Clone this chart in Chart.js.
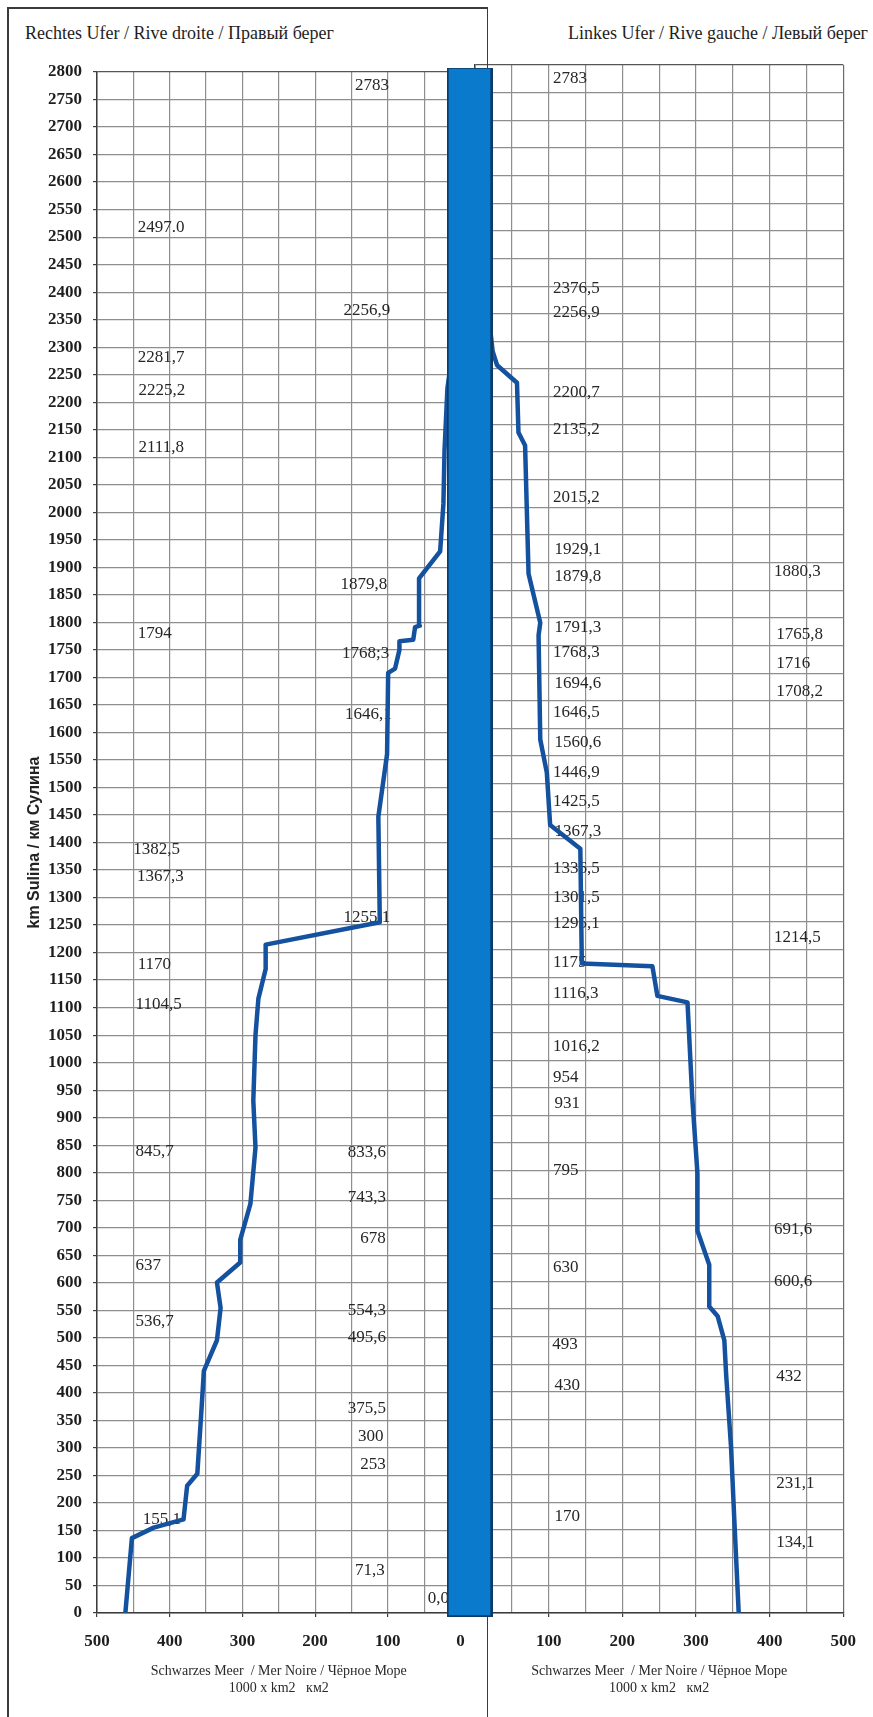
<!DOCTYPE html>
<html>
<head>
<meta charset="utf-8">
<script src="https://cdn.jsdelivr.net/npm/chart.js@4.4.1/dist/chart.umd.min.js"></script>
<style>
  body { margin:0; background:#fff; width:873px; height:1717px; position:relative; overflow:hidden; font-family:'Liberation Serif','Times New Roman',serif; }
  canvas { position:absolute; }
  .hdr { position:absolute; top:23px; font-size:18px; line-height:20px; color:#1e1e1e; white-space:nowrap; }
  .frame { position:absolute; background:#3a3a3a; }
</style>
</head>
<body>
<div class="hdr" style="left:25px;">Rechtes Ufer / Rive droite / Правый берег</div>
<div class="hdr" style="right:5px;">Linkes Ufer / Rive gauche / Левый берег</div>

<canvas id="leftChart" width="470" height="1717" style="left:0;top:0;"></canvas>
<canvas id="rightChart" width="407" height="1717" style="left:466px;top:0;"></canvas>

<div class="frame" style="left:7px;top:7px;width:1.5px;height:1710px;"></div>
<div class="frame" style="left:7px;top:7px;width:481px;height:1.5px;"></div>
<div class="frame" style="left:486.5px;top:7px;width:1.5px;height:1710px;"></div>

<canvas id="river" width="46" height="1549" style="left:447px;top:68px;"></canvas>

<script>
// ---------- Axis / tick data ----------
const kmMin = 0;
const kmMax = 2800;
const kmStep = 50;
const areaMax = 500;
const areaStep = 50;
const leftPanelTickLabels = [0, 100, 200, 300, 400, 500];
const rightPanelTickLabels = [100, 200, 300, 400, 500];

// ---------- Series: right bank (left panel), km Sulina vs. catchment 1000 km² ----------
const rightBankKm   = [0, 136, 155.1, 170, 231.1, 253, 375.5, 440, 495.6, 554.3, 600.6, 637, 678, 743.3, 845.7, 931, 1050, 1116.3, 1170, 1214.5, 1255.1, 1446.9, 1560.6, 1708.2, 1716, 1750, 1765.8, 1768.3, 1791.3, 1794, 1879.8, 1929.1, 2015.2, 2111.8, 2225.2, 2281.7];
const rightBankArea = [461, 452, 422, 381, 376, 362, 356, 353, 335, 330, 335, 303, 303, 289, 282, 285, 282, 278, 268, 268, 111, 113, 101, 99.5, 90, 84, 84, 65, 62.5, 56, 57, 28, 23.5, 22, 18, 12];

// ---------- Series: left bank (right panel) ----------
const leftBankKm   = [0, 170, 300, 430, 493, 536.7, 554.3, 630, 691.6, 795, 931, 1104.5, 1116.3, 1170, 1175, 1382.5, 1425.5, 1520, 1580, 1768.3, 1791.3, 1879.8, 2111.8, 2135.2, 2225.2, 2256.9, 2281.7, 2376.5];
const leftBankArea = [358, 352, 347.6, 341, 338.5, 329.5, 318, 318, 302, 302, 295, 288.5, 247.6, 240.8, 145, 143, 102, 97.5, 88.6, 86.3, 88.6, 72.7, 68, 59, 57, 30, 24, 16];

// ---------- Annotations (km marks) ----------
const rightBankLabelText = ['2783', '2497.0', '2256,9', '2281,7', '2225,2', '2111,8', '1879,8', '1794', '1768;3', '1646,1', '1382,5', '1367,3', '1255,1', '1170', '1104,5', '845,7', '833,6', '743,3', '678', '637', '554,3', '536,7', '495,6', '375,5', '300', '253', '155,1', '71,3', '0,0'];
const rightBankLabelKm   = [2776, 2518, 2367, 2282, 2222, 2118, 1868, 1780, 1744, 1632, 1388, 1339, 1263, 1179, 1105, 838, 836, 754, 681, 632, 550, 529, 500, 372, 320, 269, 169, 78, 27];
const rightBankLabelArea = [145, 444, 161, 444, 443, 443, 165, 444, 163, 159, 450, 445, 161, 444, 447, 447, 155, 155, 138, 447, 155, 447, 155, 155, 141, 138, 437, 145, 45];

const leftBankLabelText = ['2783', '2376,5', '2256,9', '2200,7', '2135,2', '2015,2', '1929,1', '1879,8', '1791,3', '1768,3', '1694,6', '1646,5', '1560,6', '1446,9', '1425,5', '1367,3', '1336,5', '1301,5', '1295,1', '1175', '1116,3', '1016,2', '954', '931', '795', '630', '493', '430', '170', '1880,3', '1765,8', '1716', '1708,2', '1214,5', '691,6', '600,6', '432', '231,1', '134,1'];
const leftBankLabelKm   = [2776, 2396, 2353, 2207, 2140, 2018, 1923, 1874, 1782, 1738, 1682, 1628, 1575, 1521, 1467, 1413, 1347, 1295, 1248, 1177, 1121, 1024, 969, 922, 801, 624, 485, 412, 174, 1883, 1769, 1718, 1666, 1221, 693, 599, 427, 235, 128];
const leftBankLabelArea = [106, 106, 106, 106, 106, 106, 108, 108, 108, 106, 108, 106, 108, 106, 106, 108, 106, 106, 106, 106, 106, 106, 106, 108, 106, 106, 105, 108, 108, 406, 409, 409, 409, 406, 406, 406, 409, 409, 409];

// ---------- River bar ----------
const riverName = ['Donau / Danube / Дунай'];
const riverSpanKm = [[0, 2800]];

// ---------- Styles ----------
const SERIF = "'Liberation Serif','Times New Roman',serif";
const SANS = "'Liberation Sans',Arial,sans-serif";
const LINE_COLOR = '#14519f';
const GRID = '#8e8e8e';
const DARK = '#3c3c3c';

function makeLabelPlugin(texts, kms, areas) {
  return {
    id: 'kmLabels',
    beforeDatasetsDraw(chart) {
      const ctx = chart.ctx, xs = chart.scales.x, ys = chart.scales.y;
      ctx.save();
      ctx.font = '17px ' + SERIF;
      ctx.fillStyle = '#262626';
      ctx.textAlign = 'left';
      ctx.textBaseline = 'middle';
      texts.forEach((t, i) => ctx.fillText(t, xs.getPixelForValue(areas[i]), ys.getPixelForValue(kms[i])));
      ctx.restore();
    }
  };
}

function toPoints(xs, ys) { return ys.map((v, i) => ({ x: v, y: xs[i] })); }

function panelConfig(opts) {
  return {
    type: 'line',
    data: {
      datasets: [{
        data: toPoints(opts.km, opts.area),
        borderColor: LINE_COLOR,
        borderWidth: 4.5,
        pointRadius: 0,
        tension: 0,
        fill: false,
        borderJoinStyle: 'round',
        borderCapStyle: 'round'
      }]
    },
    options: {
      responsive: false,
      animation: false,
      layout: { padding: opts.padding },
      plugins: { legend: { display: false }, tooltip: { enabled: false } },
      scales: {
        x: {
          type: 'linear',
          reverse: opts.reverse,
          min: 0, max: areaMax,
          afterFit: s => { s.height = 104; },
          border: { display: true, color: DARK, width: 1.5 },
          grid: {
            color: c => (c.tick && c.tick.value === areaMax && !opts.reverse) ? '#6a6a6a' : GRID,
            lineWidth: 1.2,
            tickLength: 4,
            tickColor: c => (c.tick && c.tick.value % 100 === 0) ? DARK : 'rgba(0,0,0,0)'
          },
          ticks: {
            stepSize: areaStep,
            autoSkip: false,
            maxRotation: 0,
            padding: 3,
            color: '#1e1e1e',
            font: { family: SERIF, size: 17, weight: 'bold', lineHeight: '44px' },
            callback: v => opts.tickLabels.includes(v) ? String(v) : ''
          },
          title: {
            display: true,
            text: ['Schwarzes Meer  / Mer Noire / Чёрное Море', '1000 x km2   км2'],
            color: '#2a2a2a',
            font: { family: SERIF, size: 14 },
            padding: { top: 0, bottom: 20.5 }
          }
        },
        y: {
          type: 'linear',
          min: kmMin, max: kmMax,
          afterFit: s => { s.width = opts.yWidth; },
          border: { display: true, color: DARK, width: 1.5 },
          grid: {
            color: c => (c.tick && c.tick.value === kmMax) ? '#555' : GRID,
            lineWidth: 1.2,
            drawTicks: opts.showY,
            tickLength: 4,
            tickColor: DARK
          },
          ticks: {
            display: opts.showY,
            stepSize: kmStep,
            autoSkip: false,
            padding: 11,
            color: '#1e1e1e',
            font: { family: SERIF, size: 17, weight: 'bold' },
            callback: v => String(v)
          },
          title: {
            display: opts.showY,
            text: 'km Sulina / км Сулина',
            color: '#222',
            font: { family: SANS, size: 16, weight: 'bold' },
            padding: { top: 17, bottom: 0 }
          }
        }
      }
    },
    plugins: [makeLabelPlugin(opts.labelText, opts.labelKm, opts.labelArea)]
  };
}

new Chart(document.getElementById('leftChart'), panelConfig({
  km: rightBankKm, area: rightBankArea,
  reverse: true, tickLabels: leftPanelTickLabels,
  padding: { left: 8, top: 72, right: 9.5, bottom: 0 },
  yWidth: 89, showY: true,
  labelText: rightBankLabelText, labelKm: rightBankLabelKm, labelArea: rightBankLabelArea
}));

new Chart(document.getElementById('rightChart'), panelConfig({
  km: leftBankKm, area: leftBankArea,
  reverse: false, tickLabels: rightPanelTickLabels,
  padding: { left: 9, top: 65, right: 29.7, bottom: 0 },
  yWidth: 0, showY: false,
  labelText: leftBankLabelText, labelKm: leftBankLabelKm, labelArea: leftBankLabelArea
}));

new Chart(document.getElementById('river'), {
  type: 'bar',
  data: {
    labels: riverName,
    datasets: [{
      data: riverSpanKm,
      backgroundColor: '#0a7bcc',
      borderColor: '#0d3a66',
      borderWidth: { left: 2, right: 3, top: 1, bottom: 2 },
      borderSkipped: false,
      barPercentage: 1,
      categoryPercentage: 1
    }]
  },
  options: {
    responsive: false,
    animation: false,
    layout: { padding: 0 },
    plugins: { legend: { display: false }, tooltip: { enabled: false } },
    scales: {
      x: { display: false },
      y: { display: false, min: kmMin, max: kmMax }
    }
  }
});
</script>
</body>
</html>
